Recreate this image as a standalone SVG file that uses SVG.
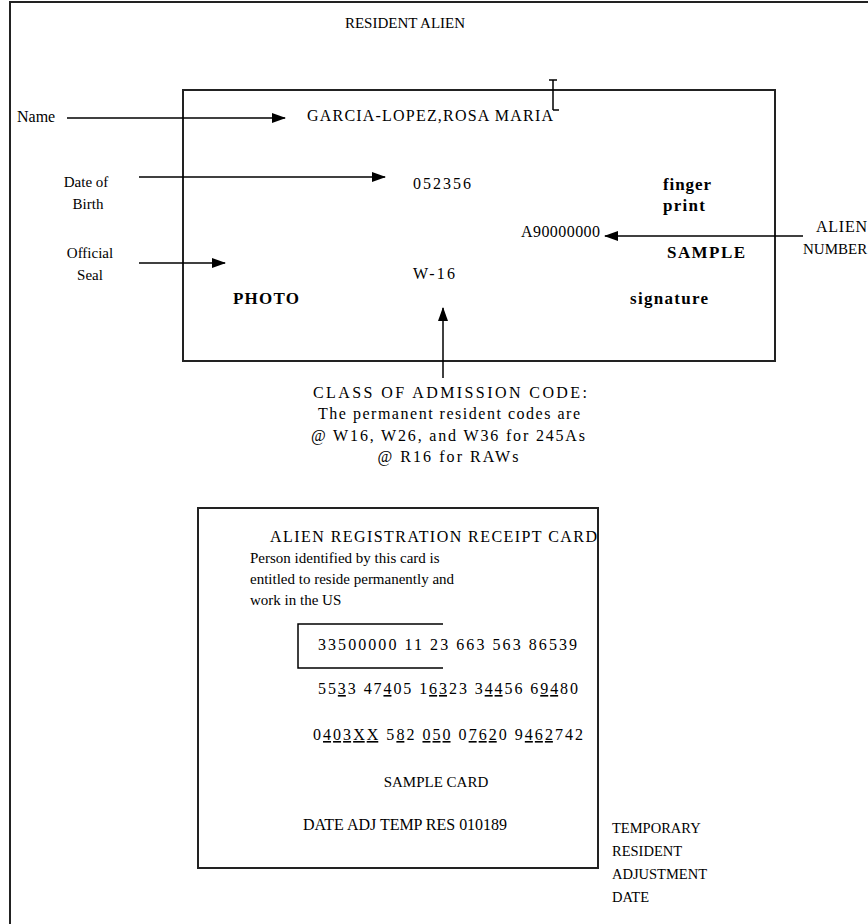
<svg xmlns="http://www.w3.org/2000/svg" width="868" height="924" viewBox="0 0 868 924">
<style>
text{font-family:"Liberation Serif","Times New Roman",serif;font-size:14px;fill:#000}
.s{font-size:15px}
.w{font-size:16px}
.b{font-weight:bold;font-size:17px}
.m{text-anchor:middle}
.ln{stroke:#000;stroke-width:1.5;fill:none}
.box{stroke:#222;stroke-width:2;fill:none}
.u{text-decoration:underline}
</style>
<defs>
<marker id="ah" markerWidth="14" markerHeight="10" refX="13" refY="5" orient="auto" markerUnits="userSpaceOnUse">
<path d="M0,0 L14,5 L0,10 Z" fill="#000"/>
</marker>
</defs>
<rect x="10" y="2" width="900" height="960" fill="#fff" class="box"/>
<g id="title"><text class="m s" x="405" y="28">RESIDENT ALIEN</text></g>

<g id="card1">
<rect x="183" y="90" width="592" height="271" class="box"/>
<text class="w" x="307" y="121" textLength="246" lengthAdjust="spacing">GARCIA-LOPEZ,ROSA MARIA</text>
<text class="w" x="413" y="189" textLength="58">052356</text>
<text class="b" x="663" y="190" textLength="48">finger</text>
<text class="b" x="663" y="211" textLength="42">print</text>
<text class="w" x="521" y="237" textLength="79">A90000000</text>
<text class="b" x="667" y="258" textLength="78">SAMPLE</text>
<text class="w" x="413" y="279" textLength="42">W-16</text>
<text class="b" x="233" y="304" textLength="66">PHOTO</text>
<text class="b" x="630" y="304" textLength="78">signature</text>
</g>
<g id="cursor">
<path class="ln" stroke-width="1" d="M553,80 V110 M549,80 H557 M553,110 H559"/>
</g>

<g id="lbl-name"><text class="w" x="17" y="122">Name</text></g>
<g id="lbl-dob"><text class="m s" x="86" y="187">Date of</text><text class="m s" x="88" y="209">Birth</text></g>
<g id="lbl-seal"><text class="m s" x="90" y="258">Official</text><text class="m s" x="90" y="280">Seal</text></g>
<g id="lbl-alien"><text class="w" x="816" y="232" textLength="51">ALIEN</text><text class="s" x="803" y="254">NUMBER</text></g>
<g id="lbl-class">
<text class="m w" x="450" y="398" textLength="274">CLASS OF ADMISSION CODE:</text>
<text class="m w" x="449" y="419" textLength="262">The permanent resident codes are</text>
<text class="m w" x="448" y="441" textLength="274">@ W16, W26, and W36 for 245As</text>
<text class="m w" x="448" y="462" textLength="141">@ R16 for RAWs</text>
</g>

<g id="card2">
<rect x="198" y="508" width="400" height="360" class="box"/>
<text class="w" x="270" y="542" textLength="327">ALIEN REGISTRATION RECEIPT CARD</text>
<text class="s" x="250" y="563">Person identified by this card is</text>
<text class="s" x="250" y="584">entitled to reside permanently and</text>
<text class="s" x="250" y="605">work in the US</text>
<path class="ln" d="M443,624 H298 V668 H443"/>
<text class="w" x="318" y="650" textLength="259">33500000 11 23 663 563 86539</text>
<text class="w" x="318" y="694" textLength="260">55<tspan class="u">3</tspan>3 47<tspan class="u">4</tspan>05 1<tspan class="u">63</tspan>23 3<tspan class="u">44</tspan>56 6<tspan class="u">94</tspan>80</text>
<text class="w" x="313" y="740" textLength="270">0<tspan class="u">403XX</tspan> 5<tspan class="u">8</tspan>2 <tspan class="u">050</tspan> 0<tspan class="u">762</tspan>0 9<tspan class="u">462</tspan>742</text>
<text class="m s" x="436" y="787">SAMPLE CARD</text>
<text class="w" x="303" y="830" textLength="204">DATE ADJ TEMP RES 010189</text>
</g>
<g id="lbl-temp">
<text x="612" y="833" style="font-size:14.5px">TEMPORARY</text>
<text x="612" y="856" style="font-size:14.5px">RESIDENT</text>
<text x="612" y="879" style="font-size:14.5px">ADJUSTMENT</text>
<text x="612" y="902" style="font-size:14.5px">DATE</text>
</g>

<g id="connectors">
<line class="ln" x1="67" y1="118" x2="285" y2="118" marker-end="url(#ah)"/>
<line class="ln" x1="139" y1="177" x2="385" y2="177" marker-end="url(#ah)"/>
<line class="ln" x1="139" y1="263" x2="225" y2="263" marker-end="url(#ah)"/>
<line class="ln" x1="803" y1="236" x2="605" y2="236" marker-end="url(#ah)"/>
<line class="ln" x1="443" y1="378" x2="443" y2="308" marker-end="url(#ah)"/>
</g>
</svg>
